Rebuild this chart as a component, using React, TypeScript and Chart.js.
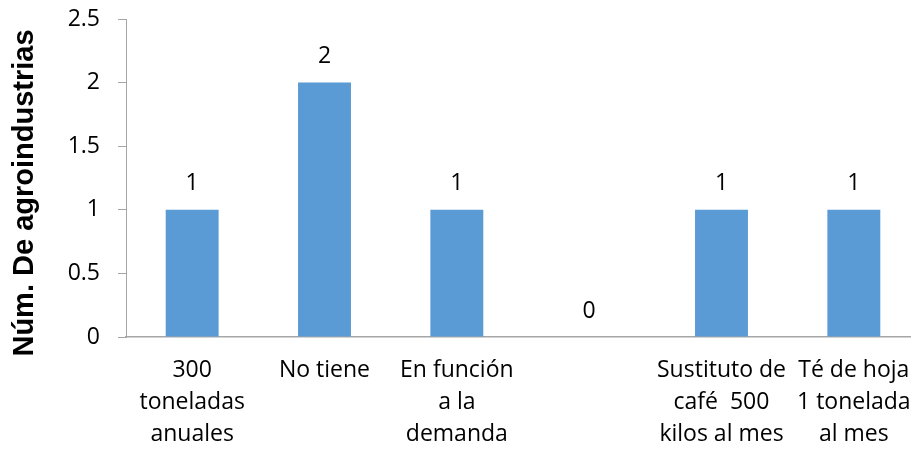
import React, { useEffect, useRef } from "react";
import { Chart, registerables } from "chart.js";

Chart.register(...registerables);

// Production categories (multi-line labels) and counts of agroindustries
const categories: string[][] = [
  ["300", "toneladas", "anuales"],
  ["No tiene"],
  ["En función", "a la", "demanda"],
  [""],
  ["Sustituto de", "café  500", "kilos al mes"],
  ["Té de hoja", "1 tonelada", "al mes"],
];
const counts: number[] = [1, 2, 1, 0, 1, 1];
const yTicks: number[] = [0, 0.5, 1, 1.5, 2, 2.5];
const yTitle = "Núm. De agroindustrias";

const BAR_COLOR = "#5B9BD5";
const AXIS_COLOR = "#A6A6A6";
const LABEL_FONT = "'Open Sans', sans-serif";

// Writes each bar's value above it
const valueLabels = {
  id: "valueLabels",
  afterDatasetsDraw(chart: any) {
    const { ctx } = chart;
    const meta = chart.getDatasetMeta(0);
    ctx.save();
    ctx.fillStyle = "#000";
    ctx.font = `23px ${LABEL_FONT}`;
    ctx.textAlign = "center";
    ctx.textBaseline = "middle";
    meta.data.forEach((bar: any, i: number) => {
      ctx.fillText(String(counts[i]), bar.x, bar.y - 26);
    });
    ctx.restore();
  },
};

// Rotated, bold y-axis title
const yAxisTitle = {
  id: "yAxisTitle",
  afterDraw(chart: any) {
    const { ctx } = chart;
    ctx.save();
    ctx.translate(25, 193);
    ctx.rotate(-Math.PI / 2);
    ctx.fillStyle = "#000";
    ctx.font = "bold 29px 'Liberation Sans', Arial, sans-serif";
    ctx.textAlign = "center";
    ctx.textBaseline = "middle";
    ctx.fillText(yTitle, 0, 0);
    ctx.restore();
  },
};

export default function App() {
  const canvasRef = useRef<HTMLCanvasElement | null>(null);

  useEffect(() => {
    if (!canvasRef.current) return;
    const chart = new Chart(canvasRef.current, {
      type: "bar",
      data: {
        labels: categories,
        datasets: [
          {
            data: counts,
            backgroundColor: BAR_COLOR,
            borderWidth: 0,
            categoryPercentage: 1,
            barPercentage: 0.4,
          },
        ],
      },
      options: {
        animation: false,
        responsive: false,
        maintainAspectRatio: false,
        layout: { padding: { top: 19, right: 5, left: 0, bottom: 0 } },
        plugins: {
          legend: { display: false },
          tooltip: { enabled: false },
        },
        scales: {
          x: {
            offset: true,
            grid: { display: false },
            border: { display: true, color: AXIS_COLOR, width: 1.5 },
            ticks: {
              color: "#000",
              font: { family: LABEL_FONT, size: 23, lineHeight: 1.38 },
              padding: 10,
              maxRotation: 0,
              autoSkip: false,
            },
            afterFit: (scale: any) => {
              scale.height = 112;
            },
          },
          y: {
            min: 0,
            max: 2.5,
            afterBuildTicks: (scale: any) => {
              scale.ticks = yTicks.map((v) => ({ value: v }));
            },
            grid: {
              display: true,
              drawOnChartArea: false,
              drawTicks: true,
              tickLength: 8,
              color: AXIS_COLOR,
              lineWidth: 1,
            },
            border: { display: true, color: AXIS_COLOR, width: 1 },
            ticks: {
              color: "#000",
              font: { family: LABEL_FONT, size: 23 },
              padding: 18,
              callback: (v: any) => String(v),
            },
            afterFit: (scale: any) => {
              scale.width = 126;
              scale.paddingTop = 0;
              scale.paddingBottom = 0;
            },
          },
        },
      },
      plugins: [valueLabels, yAxisTitle],
    });
    return () => chart.destroy();
  }, []);

  return (
    <div
      style={{
        position: "fixed",
        left: 0,
        top: 0,
        width: 911,
        height: 449,
        overflow: "hidden",
        background: "#fff",
      }}
    >
      <canvas ref={canvasRef} width={925} height={449} style={{ display: "block" }} />
    </div>
  );
}
